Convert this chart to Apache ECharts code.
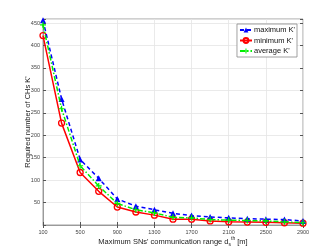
<!DOCTYPE html>
<html>
<head>
<meta charset="utf-8">
<script src="https://cdn.jsdelivr.net/npm/echarts@6/dist/echarts.min.js"></script>
<style>html,body{margin:0;padding:0;background:#fff}#c{width:335px;height:252px}</style>
</head>
<body>
<div id="c"></div>
<script>
var categories = ['100','300','500','700','900','1100','1300','1500','1700','1900','2100','2300','2500','2700','2900'];
var maxK = [456, 281, 146, 104, 58, 42, 34, 26, 21, 18, 16, 14, 13, 12, 9];
var minK = [422, 227, 117, 75, 40, 29, 22, 13, 13, 9, 7, 6.5, 6, 5, 4];
var avgK = [446, 259, 132, 87, 48, 34, 27, 17, 16, 12, 11, 10, 9, 7, 5];
var yTicks = [50, 100, 150, 200, 250, 300, 350, 400, 450];
var seriesNames = ["maximum K'", "minimum K'", "average K'"];

var plus = 'path://M4,0h2v4h4v2h-4v4h-2v-4h-4v-2h4z';
var chart = echarts.init(document.getElementById('c'));
var tickColor = '#555';
var FF = 'Liberation Sans, Arial, sans-serif';
var lbl = {fontSize: 5.5, color: '#444', fontFamily: FF};
chart.setOption({
  animation: false,
  backgroundColor: '#fff',
  grid: {left: 43, right: 32, top: 19, bottom: 27, show: true, borderColor: '#888', borderWidth: 0.8},
  legend: {
    orient: 'vertical', right: 38, top: 24,
    backgroundColor: '#fff', borderColor: '#888', borderWidth: 0.8,
    padding: [2, 2, 2, 2], itemGap: 2.5, itemWidth: 12, itemHeight: 6,
    textStyle: {fontSize: 7.5, color: '#111', fontFamily: FF, padding: [0, 0, 0, -3]},
    data: seriesNames
  },
  xAxis: [{
    type: 'category', data: categories, boundaryGap: false,
    axisLine: {lineStyle: {color: '#888', width: 0.8}},
    axisTick: {inside: true, length: 3, interval: 1, lineStyle: {color: tickColor}},
    axisLabel: Object.assign({interval: 1, margin: 4}, lbl),
    splitLine: {show: true, interval: 1, lineStyle: {color: '#e4e4e4', width: 0.8}},
    name: "Maximum SNs' communication range d{sub|s}{sup|th} [m]",
    nameLocation: 'middle', nameGap: 11, nameMoveOverlap: false,
    nameTextStyle: {fontSize: 7.5, color: '#222', fontFamily: FF,
      rich: {sup: {fontSize: 5, verticalAlign: 'top', color: '#222', lineHeight: 11, fontFamily: FF}, sub: {fontSize: 5, verticalAlign: 'bottom', color: '#222', lineHeight: 11, fontFamily: FF}}}
  }, {
    type: 'category', data: categories, boundaryGap: false, position: 'top',
    axisLine: {show: false},
    axisTick: {inside: true, length: 3, interval: 1, lineStyle: {color: tickColor}},
    axisLabel: {show: false}, splitLine: {show: false}
  }],
  yAxis: [{
    type: 'value', min: 0, max: 459, interval: 50,
    axisLine: {show: true, lineStyle: {color: '#888', width: 0.8}},
    axisTick: {show: true, inside: true, length: 3, lineStyle: {color: tickColor}},
    axisLabel: Object.assign({margin: 3, formatter: function (v) { return yTicks.indexOf(v) >= 0 ? String(v) : ''; }}, lbl),
    splitLine: {show: true, lineStyle: {color: '#e4e4e4', width: 0.8}},
    name: "Required number of CHs K'", nameLocation: 'middle', nameGap: 11, nameMoveOverlap: false,
    nameTextStyle: {fontSize: 7.5, color: '#222', fontFamily: FF}
  }, {
    type: 'value', min: 0, max: 459, interval: 50, position: 'right',
    axisLine: {show: false},
    axisTick: {show: true, inside: true, length: 3, lineStyle: {color: tickColor}},
    axisLabel: {show: false}, splitLine: {show: false}
  }],
  series: [{
    name: seriesNames[0], type: 'line', data: maxK,
    symbol: 'triangle', symbolSize: 6, showAllSymbol: true,
    lineStyle: {color: '#0000ff', width: 1.5, type: [4, 3]},
    itemStyle: {color: '#0000ff'}, z: 3
  }, {
    name: seriesNames[1], type: 'line', data: minK,
    symbol: 'circle', symbolSize: 6, showAllSymbol: true,
    lineStyle: {color: '#ff0000', width: 1.5},
    itemStyle: {color: 'rgba(255,255,255,0)', borderColor: '#ff0000', borderWidth: 1.3}, z: 2
  }, {
    name: seriesNames[2], type: 'line', data: avgK,
    symbol: plus, symbolSize: 6, showAllSymbol: true,
    lineStyle: {color: '#00ee00', width: 1.5, type: [5, 2, 1.5, 2]},
    itemStyle: {color: '#00ee00'}, z: 4
  }]
});
</script>
</body>
</html>
